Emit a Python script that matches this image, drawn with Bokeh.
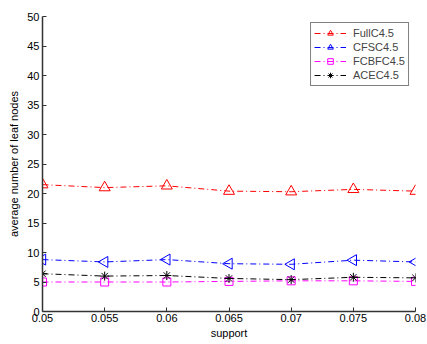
import math
from bokeh.plotting import figure
from bokeh.models import Range1d, FixedTicker, Legend, LegendItem
from bokeh.embed import file_html
from bokeh.resources import INLINE

support = [0.05, 0.055, 0.06, 0.065, 0.07, 0.075, 0.08]
full_c45 = [21.5, 21.0, 21.3, 20.4, 20.3, 20.7, 20.4]
cfs_c45 = [8.8, 8.4, 8.8, 8.1, 8.0, 8.7, 8.4]
fcbf_c45 = [5.0, 5.0, 5.0, 5.1, 5.2, 5.2, 5.1]
ace_c45 = [6.4, 6.0, 6.1, 5.6, 5.4, 5.8, 5.7]
x_ticks = [0.05, 0.055, 0.06, 0.065, 0.07, 0.075, 0.08]
x_tick_labels = ["0.05", "0.055", "0.06", "0.065", "0.07", "0.075", "0.08"]
y_ticks = [0, 5, 10, 15, 20, 25, 30, 35, 40, 45, 50]

FONT = "Liberation Sans"

p = figure(width=427, height=344, output_backend="svg", toolbar_location=None,
           x_range=Range1d(0.05, 0.08), y_range=Range1d(0, 50),
           min_border_left=42, min_border_right=12, min_border_top=16,
           min_border_bottom=33)
p.outline_line_color = None
p.xgrid.visible = False
p.ygrid.visible = False

for ax in (p.xaxis[0], p.yaxis[0]):
    ax.axis_line_color = "#333333"
    ax.axis_line_width = 1.5
    ax.major_tick_in = 4
    ax.major_tick_out = 0
    ax.minor_tick_in = 0
    ax.minor_tick_out = 0
    ax.major_tick_line_color = "#333333"
    ax.major_label_text_font = FONT
    ax.major_label_text_font_size = "11px"
    ax.major_label_text_color = "black"
    ax.axis_label_text_font = FONT
    ax.axis_label_text_font_size = "11px"
    ax.axis_label_text_font_style = "normal"
    ax.axis_label_text_color = "black"

p.xaxis.ticker = FixedTicker(ticks=x_ticks)
p.xaxis.major_label_overrides = {t: s for t, s in zip(x_ticks, x_tick_labels)}
p.xaxis.major_label_standoff = 2
p.xaxis.axis_label = "support"
p.xaxis.axis_label_standoff = 2
p.yaxis.ticker = FixedTicker(ticks=y_ticks)
p.yaxis.major_label_standoff = 3
p.yaxis.axis_label = "average number of leaf nodes"
p.yaxis.axis_label_standoff = 4

dash = "6 3 1 3"
series = [
    ("FullC4.5", full_c45, "#ff0000", "triangle", 0.0, 11),
    ("CFSC4.5", cfs_c45, "#0000ff", "triangle", math.pi / 2, 11),
    ("FCBFC4.5", fcbf_c45, "#ff00ff", "square", 0.0, 8),
    ("ACEC4.5", ace_c45, "#000000", "asterisk", 0.0, 9),
]

items = []
for name, ys, color, marker, ang, size in series:
    ln = p.line(support, ys, line_color=color, line_width=1, line_dash=dash)
    mk = p.scatter(support, ys, marker=marker, angle=ang, size=size,
                   line_color=color, fill_color=None, line_width=1)
    items.append(LegendItem(label=name, renderers=[ln, mk]))

legend = Legend(items=items, location="top_right")
legend.label_text_font = FONT
legend.label_text_font_size = "11px"
legend.border_line_color = "black"
legend.border_line_width = 1.5
legend.glyph_width = 32
legend.glyph_height = 14
legend.label_height = 12
legend.spacing = 0
legend.padding = 3
legend.margin = 6
legend.label_standoff = 7
p.add_layout(legend)

open("out.html", "w").write(file_html(p, INLINE))
